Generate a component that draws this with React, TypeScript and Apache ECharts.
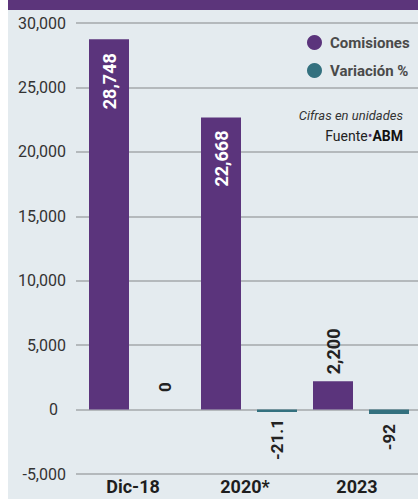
import React, { useEffect, useRef } from "react";
import * as echarts from "echarts";

const categories = ["Dic-18", "2020*", "2023"];
const comisiones = [28748, 22668, 2200];
const variacion = [0, -21.1, -92];
const yTicks = { min: -5000, max: 30000, interval: 5000 };

const BG = "#e4ebef";
const PURPLE = "#5b347c";
const TEAL = "#34717f";
const FONT = "Roboto, 'Open Sans', sans-serif";

const fmt = (v: number) => v.toLocaleString("en-US");

export default function App() {
  const ref = useRef<HTMLDivElement>(null);
  useEffect(() => {
    if (!ref.current) return;
    const chart = echarts.init(ref.current, null, { renderer: "svg" });

    const comData = comisiones.map((v, i) => {
      const inside = i < 2;
      return {
        value: v,
        label: inside
          ? {
              show: true,
              position: "insideTop",
              rotate: 90,
              align: "right",
              verticalAlign: "middle",
              distance: i === 0 ? 14 : 13,
              color: "#ffffff",
              fontSize: 18,
              fontWeight: "bold",
              fontFamily: FONT,
              formatter: () => fmt(v),
            }
          : {
              show: true,
              position: "top",
              rotate: 90,
              align: "left",
              verticalAlign: "middle",
              distance: 7,
              color: "#222",
              fontSize: 18,
              fontWeight: "bold",
              fontFamily: FONT,
              formatter: () => fmt(v),
            },
      };
    });

    const varData = variacion.map((v, i) => {
      const base: any = {
        show: true,
        rotate: 90,
        verticalAlign: "middle",
        color: "#222",
        fontSize: 17,
        fontWeight: "bold",
        fontFamily: FONT,
        formatter: () => String(v),
      };
      if (v === 0) {
        return {
          value: v,
          itemStyle: { color: "rgba(0,0,0,0)" },
          label: { ...base, position: "top", align: "left", distance: 15 },
        };
      }
      return {
        value: v,
        label: {
          ...base,
          position: "bottom",
          align: "right",
          distance: i === 1 ? 7 : 10,
        },
      };
    });

    chart.setOption({
      animation: false,
      backgroundColor: BG,
      textStyle: { fontFamily: FONT },
      grid: [
        { left: 76, right: 0, top: 23, height: 451 },
        { left: 81, right: 1, top: 23, height: 451 },
      ],
      legend: {
        data: ["Comisiones", "Variación %"],
        orient: "vertical",
        left: 302,
        top: 30,
        itemWidth: 15,
        itemHeight: 15,
        itemGap: 13,
        icon: "circle",
        textStyle: {
          fontSize: 15,
          fontWeight: "bold",
          color: "#4a4a4a",
          fontFamily: FONT,
          padding: [0, 0, 0, 3],
        },
      },
      xAxis: [
        { type: "value", gridIndex: 0, show: false, min: 0, max: 1 },
        {
          type: "category",
          gridIndex: 1,
          data: categories,
          axisLine: { show: false },
          axisTick: { show: false },
          axisLabel: {
            margin: 3,
            fontSize: 18,
            fontWeight: "bold",
            color: "#1e1e1e",
            fontFamily: FONT,
            padding: [0, 8, 0, 0],
          },
        },
      ],
      yAxis: [
        {
          type: "value",
          gridIndex: 0,
          min: yTicks.min,
          max: yTicks.max,
          interval: yTicks.interval,
          axisLine: { show: false },
          axisTick: { show: false },
          splitLine: { lineStyle: { color: "#a5a8ab", width: 1.5 } },
          axisLabel: {
            margin: 10,
            fontSize: 16,
            color: "#333",
            fontFamily: FONT,
            formatter: (v: number) => (v === 0 ? "{z|0}" : fmt(v)),
            rich: {
              z: { fontSize: 16, color: "#333", fontFamily: FONT, padding: [0, 8, 0, 0] },
            },
          },
        },
        {
          type: "value",
          gridIndex: 1,
          min: yTicks.min,
          max: yTicks.max,
          show: false,
          splitLine: { show: false },
        },
        {
          type: "value",
          gridIndex: 1,
          min: -1320,
          max: 7920,
          show: false,
          splitLine: { show: false },
        },
      ],
      series: [
        {
          name: "Comisiones",
          type: "bar",
          xAxisIndex: 1,
          yAxisIndex: 1,
          barWidth: 40,
          barGap: "40%",
          itemStyle: { color: PURPLE },
          data: comData,
        },
        {
          name: "Variación %",
          type: "bar",
          xAxisIndex: 1,
          yAxisIndex: 2,
          barWidth: 40,
          barGap: "40%",
          barMinHeight: 2.5,
          itemStyle: { color: TEAL },
          data: varData,
        },
      ],
      graphic: [
        {
          type: "rect",
          shape: { x: 0, y: 0, width: 8, height: 499 },
          style: { fill: "#ffffff" },
          silent: true,
        },
        {
          type: "rect",
          shape: { x: 8, y: 0, width: 410, height: 10 },
          style: { fill: "#5c357b" },
          silent: true,
        },
        {
          type: "text",
          right: 15,
          top: 109,
          style: {
            text: "Cifras en unidades",
            font: `italic 13px ${FONT}`,
            fill: "#333",
          },
        },
        {
          type: "text",
          right: 15,
          top: 129,
          style: {
            text: "{a|Fuente}{b|•}{c|ABM}",
            rich: {
              a: { fontSize: 14, fontFamily: FONT, fill: "#222", color: "#222" },
              b: { fontSize: 14, fontFamily: FONT, fill: PURPLE, color: PURPLE },
              c: { fontSize: 14, fontFamily: FONT, fontWeight: "bold", fill: "#111", color: "#111" },
            },
          },
        },
      ],
    });
    return () => chart.dispose();
  }, []);
  return (
    <div
      ref={ref}
      style={{ position: "fixed", left: 0, top: 0, width: 418, height: 499, background: "#fff" }}
    />
  );
}
